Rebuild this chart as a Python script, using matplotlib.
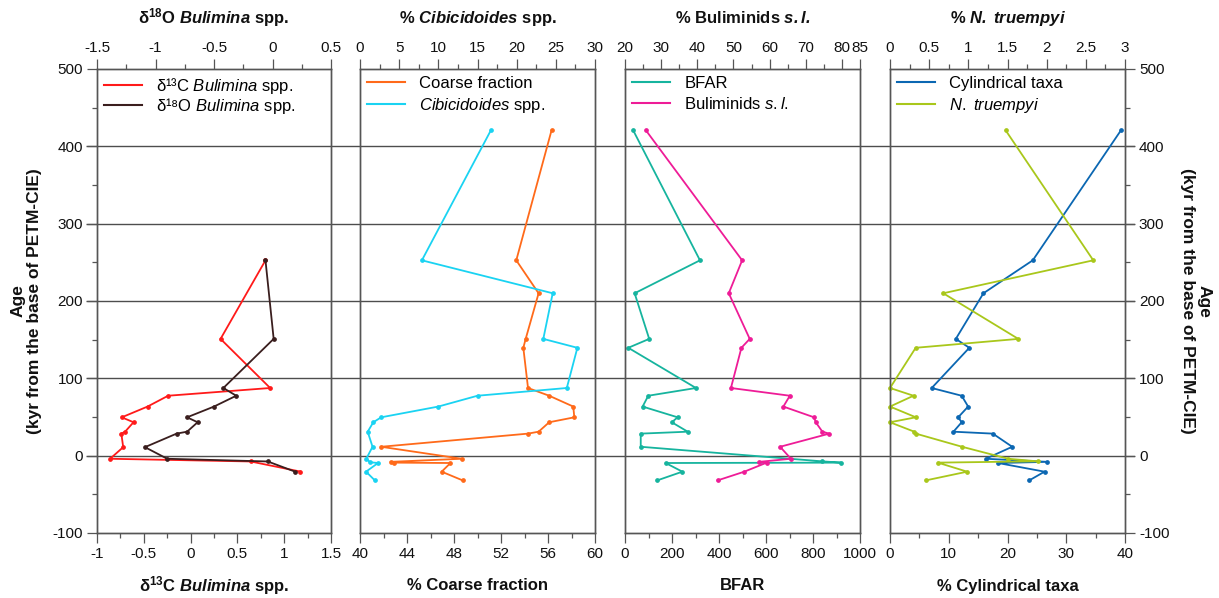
import matplotlib
matplotlib.use("Agg")
import matplotlib.pyplot as plt
from matplotlib.lines import Line2D
from matplotlib.ticker import FixedLocator, MultipleLocator, FuncFormatter

plt.rcParams['font.family'] = ['Liberation Sans', 'DejaVu Sans']
plt.rcParams['axes.unicode_minus'] = False
plt.rcParams['mathtext.fontset'] = 'custom'
plt.rcParams['mathtext.rm'] = 'Liberation Sans'
plt.rcParams['mathtext.it'] = 'Liberation Sans:italic'
plt.rcParams['mathtext.bf'] = 'Liberation Sans:bold'
plt.rcParams['mathtext.bfit'] = 'Liberation Sans:italic:bold'

# ---------------- data ----------------
# Panel 1: stable isotopes
iso_age = [252.6, 151, 87.5, 77.5, 63.5, 49.6, 43.2, 31, 28.5, 11, -4, -7.5, -20.5]
d13c = [0.80, 0.32, 0.85, -0.24, -0.46, -0.735, -0.61, -0.70, -0.74, -0.72, -0.86, 0.64, 1.17]
d18o = [-0.06, 0.01, -0.42, -0.31, -0.50, -0.73, -0.64, -0.73, -0.82, -1.09, -0.90, -0.04, 0.19]

# Panel 2
coarse_age = [420.6, 252.6, 210, 151, 139.5, 87.5, 77.5, 63.5, 49.6, 43.2, 31, 28.5, 11.5,
              -4, -8, -9, -9.5, -20.7, -32]
coarse = [56.3, 53.3, 55.2, 54.1, 53.9, 54.3, 56.1, 58.15, 58.24, 56.1, 55.2, 54.3, 41.8,
          48.65, 42.6, 42.9, 47.7, 46.95, 48.74]
cibi_age = [420.6, 252.6, 210, 151, 139.5, 87.5, 77.5, 63.5, 49.6, 43.2, 31, 11.5,
            -4, -8.5, -9.5, -20.7, -32]
cibi = [16.7, 7.9, 24.6, 23.4, 27.75, 26.4, 15.0, 10.0, 2.7, 1.7, 0.98, 1.6,
        0.8, 1.28, 2.3, 0.77, 1.9]

# Panel 3
bfar_age = [420.6, 252.6, 210, 151, 139.5, 87.5, 77.5, 63.5, 49.6, 43.2, 31, 28.5, 11.5,
            -7.3, -9, -9.5, -20.7, -32]
bfar = [35, 319, 41, 103, 14, 302, 99, 75, 224, 199, 267, 67, 67,
        837, 919, 173, 244, 137]
bul_age = [420.6, 252.6, 210, 151, 139.5, 87.5, 77.5, 63.5, 49.6, 43.2, 31, 28.5, 11.5,
           -4, -8, -9, -20.7, -32]
bul = [25.8, 52.4, 48.7, 54.5, 52.2, 49.3, 65.6, 63.8, 72.3, 72.75, 74.6, 76.5, 62.9,
       65.9, 57.1, 59.2, 53.0, 45.6]

# Panel 4
cyl_age = [420.6, 252.6, 210, 151, 139.5, 87.5, 77.5, 63.5, 49.6, 43.2, 31, 28.5, 11.5,
           -4, -8, -9.5, -20.7, -32]
cyl = [39.3, 24.3, 15.9, 11.2, 13.5, 7.1, 12.2, 13.3, 11.6, 12.2, 10.8, 17.5, 20.8,
       16.3, 26.8, 18.4, 26.3, 23.7]
nt_age = [420.6, 252.6, 210, 151, 139.5, 87.5, 77.5, 63.5, 49.6, 43.2, 31, 28.5, 11.5,
          -4, -7.3, -9, -20.7, -32]
nt = [1.477, 2.595, 0.68, 1.638, 0.328, 0, 0.30, 0, 0.33, 0, 0.31, 0.33, 0.92,
      1.51, 1.885, 0.61, 0.985, 0.456]

grid_levels = [0, 100, 200, 300, 400]

# ---------------- layout ----------------
W, H = 1219, 598
fig = plt.figure(figsize=(W / 100, H / 100), dpi=100)
TOP, BOT = 69, 533
SPC = '#555555'
TXT = '#111111'
TICKFS = 11
LABFS = 12

def rect(x0, x1):
    return [x0 / W, 1 - BOT / H, (x1 - x0) / W, (BOT - TOP) / H]

bg = fig.add_axes(rect(86, 1135), zorder=0)
bg.set_xlim(0, 1)
bg.set_ylim(-100, 500)
bg.axis('off')
bg.hlines(grid_levels, 0, 1, color='#4d4d4d', lw=1.0)

fmt = FuncFormatter(lambda v, p: '{:g}'.format(round(v, 6)))

panels = [
    dict(x=(97, 331), ls=0.03,
         b=dict(x=d13c, y=iso_age, c='#ff1a1a', lab='δ¹³C $\\mathit{Bulimina}$ spp.',
                lim=(-1, 1.5), maj=0.5, mi=0.25, ticks=None),
         t=dict(x=d18o, y=iso_age, c='#3a1e1e', lab='δ¹⁸O $\\mathit{Bulimina}$ spp.',
                lim=(-1.5, 0.5), maj=0.5, mi=0.25, ticks=None),
         blabel=r'δ$^{\mathbf{13}}$C $\mathbfit{Bulimina}$ spp.',
         tlabel=r'δ$^{\mathbf{18}}$O $\mathbfit{Bulimina}$ spp.'),
    dict(x=(360, 595), ls=0.33,
         b=dict(x=coarse, y=coarse_age, c='#ff6a1a', lab='Coarse fraction',
                lim=(40, 60), maj=4, mi=2, ticks=None),
         t=dict(x=cibi, y=cibi_age, c='#1ad3f2', lab=r'$\mathit{Cibicidoides}$ spp.',
                lim=(0, 30), maj=5, mi=2.5, ticks=None),
         blabel='% Coarse fraction',
         tlabel=r'% $\mathbfit{Cibicidoides}$ spp.'),
    dict(x=(625, 860), ls=0.33,
         b=dict(x=bfar, y=bfar_age, c='#16b49e', lab='BFAR',
                lim=(0, 1000), maj=200, mi=100, ticks=None),
         t=dict(x=bul, y=bul_age, c='#ee1c97', lab=r'Buliminids $\mathit{s.l.}$',
                lim=(20, 85), maj=10, mi=5, ticks=[20, 30, 40, 50, 60, 70, 80, 85]),
         blabel='BFAR',
         tlabel=r'% Buliminids $\mathbfit{s.l.}$'),
    dict(x=(890, 1125), ls=0.33,
         b=dict(x=cyl, y=cyl_age, c='#0b67b2', lab='Cylindrical taxa',
                lim=(0, 40), maj=10, mi=5, ticks=None),
         t=dict(x=nt, y=nt_age, c='#a9c71b', lab=r'$\mathit{N.\ truempyi}$',
                lim=(0, 3), maj=0.5, mi=0.25, ticks=None),
         blabel='% Cylindrical taxa',
         tlabel=r'% $\mathbfit{N.\ truempyi}$'),
]

def style_x(ax, d):
    ax.set_xlim(*d['lim'])
    if d['ticks'] is not None:
        ax.xaxis.set_major_locator(FixedLocator(d['ticks']))
    else:
        ax.xaxis.set_major_locator(MultipleLocator(d['maj']))
    ax.xaxis.set_minor_locator(MultipleLocator(d['mi']))
    ax.xaxis.set_major_formatter(fmt)
    ax.tick_params(axis='x', which='major', direction='out', length=7, width=0.9,
                   color=SPC, labelsize=TICKFS, pad=3, labelcolor=TXT)
    ax.tick_params(axis='x', which='minor', direction='out', length=3.5, width=0.9,
                   color=SPC)

for i, p in enumerate(panels):
    ax = fig.add_axes(rect(*p['x']), zorder=2)
    ax.patch.set_facecolor('none')
    ax.set_ylim(-100, 500)
    for s in ax.spines.values():
        s.set_color(SPC)
        s.set_linewidth(1.0)
    b, t = p['b'], p['t']
    ax.plot(b['x'], b['y'], '-o', color=b['c'], lw=1.3, ms=2.4, clip_on=False)
    style_x(ax, b)
    ax2 = ax.twiny()
    ax2.patch.set_visible(False)
    for s in ax2.spines.values():
        s.set_color(SPC)
        s.set_linewidth(1.0)
    ax2.plot(t['x'], t['y'], '-o', color=t['c'], lw=1.3, ms=2.4, clip_on=False)
    style_x(ax2, t)
    ax2.set_ylim(-100, 500)

    ax.yaxis.set_major_locator(MultipleLocator(100))
    ax.yaxis.set_minor_locator(MultipleLocator(50))
    ax.yaxis.set_major_formatter(fmt)
    ax.tick_params(axis='y', which='major', direction='out', length=7, width=0.9,
                   color=SPC, labelsize=TICKFS, pad=3, labelcolor=TXT)
    ax.tick_params(axis='y', which='minor', direction='out', length=3.5, width=0.9,
                   color=SPC)
    if i == 0:
        ax.tick_params(axis='y', which='both', left=True, right=False,
                       labelleft=True, labelright=False)
    elif i == 3:
        ax.tick_params(axis='y', which='both', left=False, right=True,
                       labelleft=False, labelright=True)
    else:
        ax.tick_params(axis='y', which='both', left=False, right=False,
                       labelleft=False, labelright=False)

    handles = [Line2D([], [], color=b['c'], lw=1.5), Line2D([], [], color=t['c'], lw=1.5)]
    ax2.legend(handles, [b['lab'], t['lab']], loc='upper left', frameon=False,
               fontsize=LABFS, handlelength=2.3, handletextpad=0.85,
               labelspacing=p['ls'], borderaxespad=0.25, borderpad=0.15)

    cx = (p['x'][0] + p['x'][1]) / 2 / W
    fig.text(cx, 1 - 18 / H, p['tlabel'], ha='center', va='center',
             fontsize=LABFS, fontweight='bold', color=TXT)
    fig.text(cx, 1 - 586 / H, p['blabel'], ha='center', va='center',
             fontsize=LABFS, fontweight='bold', color=TXT)

ylab = 'Age\n(kyr from the base of PETM-CIE)'
ymid = 1 - 301 / H
fig.text(26 / W, ymid, ylab, rotation=90, ha='center', va='center',
         fontsize=12.5, fontweight='bold', multialignment='center', color=TXT,
         linespacing=1.1)
fig.text(1196 / W, ymid, ylab, rotation=270, ha='center', va='center',
         fontsize=12.5, fontweight='bold', multialignment='center', color=TXT,
         linespacing=1.1)

fig.savefig('out.png', dpi=100)
